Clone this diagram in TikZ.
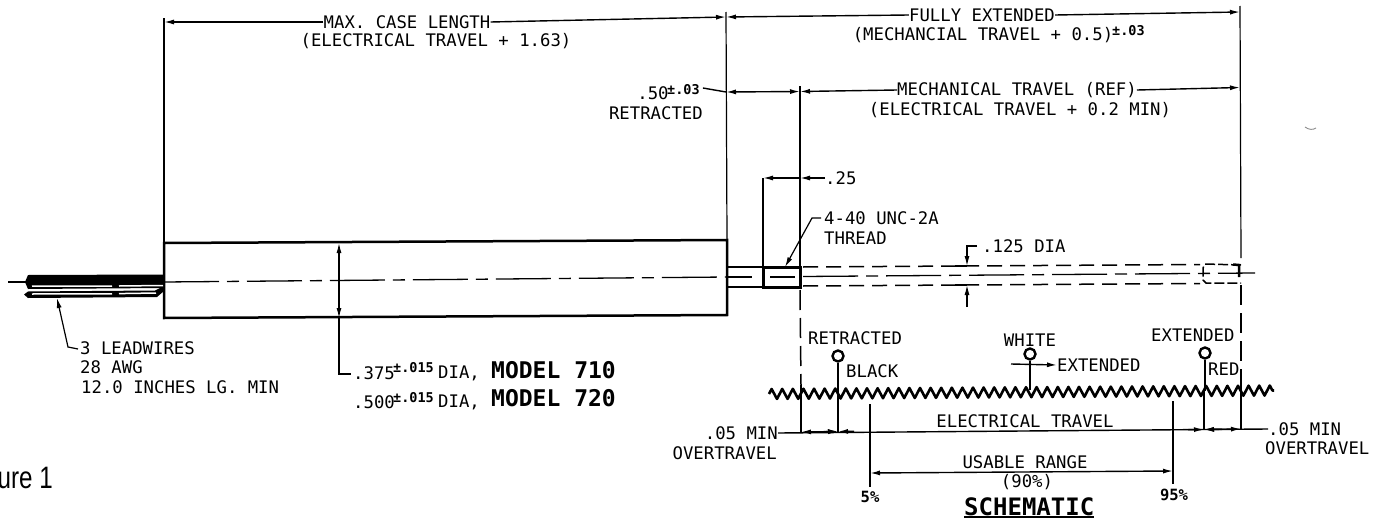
\documentclass[tikz,border=0pt]{standalone}
\usepackage{fontspec}
\usetikzlibrary{arrows.meta,decorations.pathmorphing,calc}
\newfontfamily\plotf{DejaVu Sans Mono}
\newfontfamily\figf[FakeStretch=0.78]{Liberation Sans}
\tikzset{
  ln/.style={line width=1.2pt,black},
  heavy/.style={line width=2.5pt,black},
  dim/.style={line width=1.4pt,black},
  tipd/.tip={Latex[length=10pt,width=5pt]},
  hd/.style={-tipd},
  hh/.style={tipd-tipd},
  tx/.style={font=\plotf\fontsize{17.3}{20}\selectfont,inner sep=0pt,text=black},
  sm/.style={font=\plotf\bfseries\fontsize{13.5}{16}\selectfont,inner sep=0pt,text=black},
  big/.style={font=\plotf\bfseries\fontsize{23}{26}\selectfont,inner sep=0pt,text=black},
  shaftd/.style={line width=1.5pt,dash pattern=on 15pt off 8pt},
  cent/.style={line width=1.3pt,dash pattern=on 55pt off 8pt on 12pt off 8pt},
  ext/.style={line width=1.5pt,dash pattern=on 20pt off 8pt},
}
\begin{document}
\begin{tikzpicture}[x=1pt,y=-1pt]
\useasboundingbox (0,0) rectangle (1382,522);
\fill[white] (0,0) rectangle (1382,522);
% ---- case
\draw[heavy] (164,243) -- (727,240) -- (727,315) -- (164,318) -- cycle;
\coordinate (cl0) at (8,282);
\coordinate (cl1) at (727,277);
\draw[cent] (164,282) -- (cl1);
\draw[ln] (cl0) -- (27,282);
% ---- lead wires
\fill[black] (28,275) -- (164,274.5) -- (164,288) -- (28,289) -- (25,282) -- cycle;
\fill[black] (28,291.5) -- (155,290.5) -- (162,287) -- (164,288) -- (164,291) -- (157,297) -- (28,298) -- (24,294.5) -- cycle;
\draw[white,line width=1.5pt] (32,286.2) -- (112,286) (119,286) -- (163,285.5);
\draw[white,line width=1.5pt] (32,294) -- (112,293.8) (119,293.6) -- (156,293);
% ---- shaft
\draw[heavy] (727,267) -- (800,267) (727,287) -- (800,287);
\draw[line width=3pt] (763,268) -- (763,287) -- (800,287) -- (800,267) -- (763,267);
\draw[white,line width=1.3pt,dash pattern=on 8pt off 8pt] (767,272) -- (796,272) (767,282) -- (796,282);
\draw[ln] (727,277) -- (752,277) (770,277) -- (795,277);
\coordinate (sh0) at (803,267);
\coordinate (sh1) at (1200,264.5);
\coordinate (sh2) at (803,286);
\coordinate (sh3) at (1200,283.5);
\draw[shaftd] (sh0) -- (sh1) (sh2) -- (sh3);
\draw[cent] (803,276.5) -- (1255,273);
% extended end
\draw[line width=1.5pt,dash pattern=on 10pt off 3pt] (1241,265) -- (1205,264) -- (1203,268) -- (1203,280) -- (1206,283) -- (1241,283);
\draw[line width=2.5pt] (1233,264.5) -- (1239,265) -- (1239,277);
% ---- extension lines
\draw[ln] (164,18) -- (164,243);
\draw[ln] (726,12) -- (727,240);
\draw[ln] (763,178) -- (763,267);
\draw[ln] (800,86) -- (800,267);
\draw[ln] (1240,6) -- (1241,258);
\draw[ext] (800,290) -- (801,385);
\draw[ln] (801,385) -- (801,432);
\draw[ext] (1241,285) -- (1241,370);
\draw[ln] (1241,370) -- (1241,429);
% ---- top dims
\node[tx] (maxl) at (407,22) {MAX. CASE LENGTH};
\node[tx] (maxs) at (436,41) {(ELECTRICAL TRAVEL + 1.63)};
\coordinate (a0) at (164,22);
\coordinate (a1) at (726,17);
\draw[dim,hd] (maxl.west) -- (a0);
\draw[dim,hd] (maxl.east) -- (a1);
\node[tx] (full) at (982,15) {FULLY EXTENDED};
\node[tx] (fulls) at (983,35) {(MECHANCIAL TRAVEL + 0.5)};
\node[sm,anchor=west] (fullt) at (1112,31) {±.03};
\coordinate (b1) at (1240,12);
\draw[dim,hd] (full.west) -- (a1);
\draw[dim,hd] (full.east) -- (b1);
% .50 and mech travel
\node[tx] (p50) at (653,93) {.50};
\node[sm,anchor=west] (p50t) at (667,90) {±.03};
\node[tx,anchor=east] (retr) at (703,113) {RETRACTED};
\coordinate (c0) at (726,92);
\coordinate (c1) at (800,91.5);
\coordinate (c2) at (1240,87.5);
\draw[dim] (p50t.east) ++(3pt,2pt) -- (c0);
\draw[dim,hh] (c0) -- (c1);
\node[tx] (mech) at (1017,90) {MECHANICAL TRAVEL (REF)};
\node[tx] (mechs) at (1020,110) {(ELECTRICAL TRAVEL + 0.2 MIN)};
\draw[dim,hd] (mech.west) -- (c1);
\draw[dim,hd] (mech.east) -- (c2);
% .25
\node[tx,anchor=west] (p25) at (825,178) {.25};
\coordinate (d0) at (763,178);
\coordinate (d1) at (800,178);
\draw[dim,hd] (d1) -- (d0);
\draw[dim,hd] (p25.west) -- (d1);
% thread leader
\node[tx,anchor=west] (thr) at (824,218) {4-40 UNC-2A};
\node[tx,anchor=west] (thr2) at (824,238) {THREAD};
\coordinate (t0) at (785,267);
\draw[ln,hd] (thr.west) ++(-3pt,0) -- (812,218) -- (t0);
% .125 DIA
\node[tx,anchor=west] (d125) at (982,246) {.125 DIA};
\coordinate (e0) at (967,266);
\coordinate (e1) at (967,285);
\draw[ln,hd] (d125.west) ++(-5pt,0) -| (e0);
\draw[ln,hd] (967,307) -- (e1);
\draw[ln] (955,266) -- (967,266) (955,285) -- (967,285);
% ---- case diameter
\coordinate (f0) at (339,243);
\coordinate (f1) at (339,318);
\node[tx,anchor=west] (d375) at (353,373) {.375};
\node[sm,anchor=west] (d375t) at (393,368) {±.015};
\node[tx,anchor=west] (d375d) at (438,373) {DIA,};
\node[big,anchor=west] (m710) at (491,370) {MODEL 710};
\node[tx,anchor=west] (d500) at (353,402) {.500};
\node[sm,anchor=west] (d500t) at (393,398) {±.015};
\node[tx,anchor=west] (d500d) at (438,402) {DIA,};
\node[big,anchor=west] (m720) at (491,398) {MODEL 720};
\draw[ln,hd] (339,280) -- (f0);
\draw[ln,hd] (339,280) -- (f1);
\draw[ln] (f1) |- ($(d375.west)+(-2pt,-1pt)$);
% ---- lead wire label
\node[tx,anchor=west] (lw1) at (80,348) {3 LEADWIRES};
\node[tx,anchor=west] (lw2) at (80,367) {28 AWG};
\node[tx,anchor=west] (lw3) at (81,387) {12.0 INCHES LG. MIN};
\coordinate (g0) at (57,298);
\draw[ln,hd] (lw1.west) ++(-2pt,-1pt) -- (68,347) -- (g0);
% ---- schematic
\draw[line width=2.6pt,line join=round,decorate,decoration={zigzag,segment length=10.6pt,amplitude=5pt}] (769,394) -- (1274,390.5);
\foreach \n/\x/\y/\e in {pb/838/356/392, pw/1030/354/390, pr/1205/353/391}{
  \node[circle,draw,line width=2.4pt,minimum size=11pt,inner sep=0pt] (\n) at (\x,\y) {};
  \draw[heavy] (\n.south) -- (\x,\e);
}
\node[tx,anchor=west] (rt) at (808,338) {RETRACTED};
\node[tx,anchor=west] (bk) at (846,371) {BLACK};
\node[tx] (wh) at (1030,340) {WHITE};
\node[tx,anchor=west] (ex1) at (1057,365) {EXTENDED};
\draw[dim,hd] (1011,364) -- (ex1.west);
\node[tx,anchor=west] (ex2) at (1151,335) {EXTENDED};
\node[tx,anchor=west] (rd) at (1208,369) {RED};
% electrical travel
\coordinate (h0) at (801,432);
\coordinate (h1) at (838,431.5);
\coordinate (h2) at (1204,429.5);
\coordinate (h3) at (1241,429);
\node[tx] (el) at (1025,421) {ELECTRICAL TRAVEL};
\node[tx,anchor=east] (ol1) at (778,433) {.05 MIN};
\node[tx,anchor=east] (ol2) at (777,453) {OVERTRAVEL};
\node[tx,anchor=west] (or1) at (1268,429) {.05 MIN};
\node[tx,anchor=west] (or2) at (1265,448) {OVERTRAVEL};
\draw[dim] (ol1.east) -- (or1.west);
\draw[dim,hh] (h0) -- (h1);
\draw[dim,hh] (h2) -- (h3);
\draw[dim,hd] (826,431.6) -- (h1);
\draw[dim,hd] (854,431.4) -- (h1);
\draw[dim,hd] (1188,429.7) -- (h2);
\draw[dim,hd] (1222,429.3) -- (h2);
\draw[ln] (838,392) -- (h1) (1204,391) -- (h2);
% usable range
\coordinate (u0) at (870,473);
\coordinate (u1) at (1173,471);
\draw[dim,hh] (u0) -- (u1);
\draw[ln] (870,404) -- (870,487) (1173,401) -- (1173,484);
\node[tx] (us) at (1025,462) {USABLE RANGE};
\node[tx] (pc) at (1027,482) {(90\%)};
\node[tx,font=\plotf\bfseries\fontsize{15.5}{18}\selectfont] (p5) at (870,497) {5\%};
\node[tx,font=\plotf\bfseries\fontsize{15.5}{18}\selectfont] (p95) at (1174,495) {95\%};
\node[big,anchor=west,font=\plotf\bfseries\fontsize{24}{26}\selectfont] (sch) at (964,507) {SCHEMATIC};
\draw[line width=1.6pt] (sch.west |- 0,517) -- (sch.east |- 0,517);
% ---- figure caption (cut by the left edge)
\node[font=\figf\fontsize{31}{34}\selectfont,anchor=base east,inner sep=0pt] (fig) at (53,488) {ure 1};
% ---- faint speck at the right
\draw[black!45,line width=.9pt] (1305,127) .. controls (1309,130) and (1313,130) .. (1316,128);
\end{tikzpicture}
\end{document}
